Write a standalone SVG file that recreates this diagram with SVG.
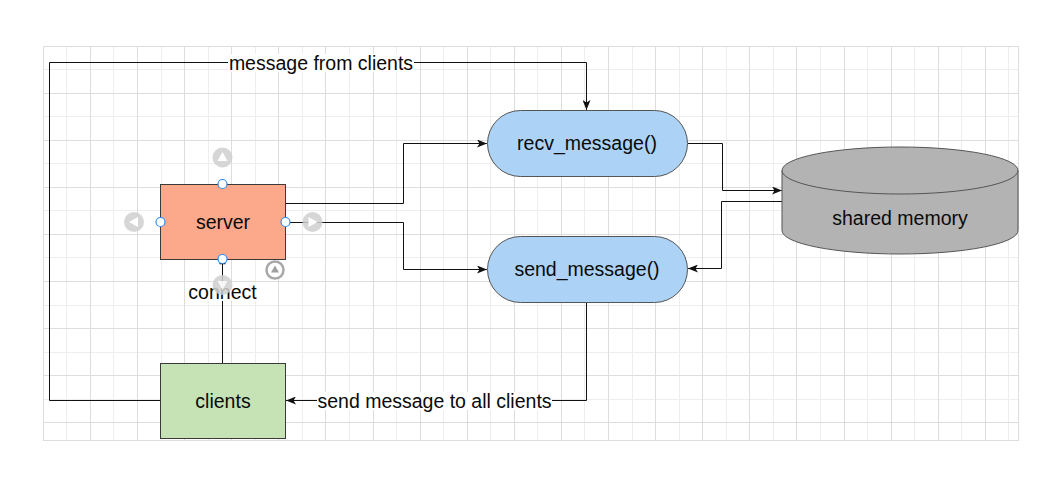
<svg xmlns="http://www.w3.org/2000/svg" width="1058" height="486" viewBox="0 0 1058 486">
<style>
.t{font-family:"Liberation Sans",Arial,sans-serif;font-size:19.5px;fill:#0a0a0a;text-anchor:middle}
.c{fill:none;stroke:#111;stroke-width:1}
.h{fill:#fff;stroke:#2f8cf0;stroke-width:1.2}
.gi{fill:#cfcfcf;opacity:0.85}
</style>
<defs>
<marker id="arr" viewBox="0 0 10 8" refX="10" refY="4" markerWidth="10" markerHeight="8" orient="auto" markerUnits="userSpaceOnUse">
<path d="M0,0 L10,4 L0,8 L2.5,4 z" fill="#111"/>
</marker>
</defs>
<rect width="1058" height="486" fill="#fff"/>
<g id="grid" fill="none">
<path stroke="#eeeeee" d="M66.5,46.5V440.5M113.5,46.5V440.5M161.5,46.5V440.5M208.5,46.5V440.5M255.5,46.5V440.5M302.5,46.5V440.5M349.5,46.5V440.5M396.5,46.5V440.5M443.5,46.5V440.5M490.5,46.5V440.5M537.5,46.5V440.5M584.5,46.5V440.5M632.5,46.5V440.5M679.5,46.5V440.5M726.5,46.5V440.5M773.5,46.5V440.5M820.5,46.5V440.5M867.5,46.5V440.5M914.5,46.5V440.5M961.5,46.5V440.5M1008.5,46.5V440.5M43.5,69.5H1018.5M43.5,116.5H1018.5M43.5,163.5H1018.5M43.5,210.5H1018.5M43.5,257.5H1018.5M43.5,305.5H1018.5M43.5,352.5H1018.5M43.5,399.5H1018.5"/>
<path stroke="#dddddd" d="M90.5,46.5V440.5M137.5,46.5V440.5M184.5,46.5V440.5M231.5,46.5V440.5M278.5,46.5V440.5M325.5,46.5V440.5M373.5,46.5V440.5M420.5,46.5V440.5M467.5,46.5V440.5M514.5,46.5V440.5M561.5,46.5V440.5M608.5,46.5V440.5M655.5,46.5V440.5M702.5,46.5V440.5M749.5,46.5V440.5M796.5,46.5V440.5M844.5,46.5V440.5M891.5,46.5V440.5M938.5,46.5V440.5M985.5,46.5V440.5M43.5,93.5H1018.5M43.5,140.5H1018.5M43.5,187.5H1018.5M43.5,234.5H1018.5M43.5,281.5H1018.5M43.5,328.5H1018.5M43.5,375.5H1018.5M43.5,422.5H1018.5"/>
<rect x="43.5" y="46.5" width="975" height="394" stroke="#dddddd"/>
</g>
<g id="connectors">
<path class="c" d="M286,203.5H403.5V143.5H487" marker-end="url(#arr)"/>
<path class="c" d="M286,222.5H403.5V269.5H487" marker-end="url(#arr)"/>
<path class="c" d="M688,143.5H722.5V190.5H782" marker-end="url(#arr)"/>
<path class="c" d="M782,201.5H721.5V268.5H688" marker-end="url(#arr)"/>
<path class="c" d="M586.5,303V400.5H286" marker-end="url(#arr)"/>
<path class="c" d="M160,400.5H49.5V62.5H586.5V110" marker-end="url(#arr)"/>
<path class="c" d="M222.5,260V363"/>
<path d="M219.5,263.5H225.5" stroke="#111" stroke-width="1.5"/>
<rect x="228" y="54" width="186" height="18" fill="#fff"/>
<text class="t" x="321" y="69.7">message from clients</text>
<rect x="317" y="392" width="235" height="18" fill="#fff"/>
<text class="t" x="434.5" y="407.5">send message to all clients</text>
<rect x="187" y="283" width="71" height="18" fill="#fff"/>
<text class="t" x="222.5" y="298.5">connect</text>
</g>
<g id="server">
<rect x="160.5" y="184.5" width="125" height="75" fill="#fca98b" stroke="#3a3a3a"/>
<text class="t" x="223" y="228.5">server</text>
</g>
<g id="recv_message">
<rect x="487.5" y="110.5" width="200" height="66" rx="33" fill="#acd3f5" stroke="#555"/>
<text class="t" x="587" y="150">recv_message()</text>
</g>
<g id="send_message">
<rect x="487.5" y="236.5" width="200" height="66" rx="33" fill="#acd3f5" stroke="#555"/>
<text class="t" x="587" y="276">send_message()</text>
</g>
<g id="shared_memory">
<path d="M782,170.5A118,23.5 0 0 1 1018,170.5V230.5A118,23.5 0 0 1 782,230.5Z" fill="#b3b3b3" stroke="#555"/>
<path d="M782,170.5A118,23.5 0 0 0 1018,170.5" fill="none" stroke="#555"/>
<text class="t" x="900" y="225">shared memory</text>
</g>
<g id="clients">
<rect x="160.5" y="363.5" width="125" height="75" fill="#c5e3b4" stroke="#3a3a3a"/>
<text class="t" x="223" y="407.5">clients</text>
</g>
<g id="hover-icons">
<circle class="gi" cx="222.5" cy="157.5" r="10"/>
<path d="M222.5,152L227.5,161H217.5Z" fill="#fff"/>
<circle class="gi" cx="134" cy="222" r="10"/>
<path d="M129,222L138,217V227Z" fill="#fff"/>
<circle class="gi" cx="312.5" cy="222" r="10"/>
<path d="M317.5,222L308.5,217V227Z" fill="#fff"/>
<circle class="gi" cx="222.5" cy="285" r="10" opacity="0.7"/>
<path d="M222.5,290L227.5,281H217.5Z" fill="#fff" opacity="0.8"/>
<circle cx="275" cy="270" r="8.5" fill="#fff" stroke="#a8a8a8" stroke-width="2.5"/>
<path d="M275,265.5L279,272.5H271Z" fill="#a0a0a0"/>
</g>
<g id="handles">
<circle class="h" cx="222.5" cy="184" r="4.5"/>
<circle class="h" cx="160.5" cy="222" r="4.5"/>
<circle class="h" cx="285.5" cy="222" r="4.5"/>
<circle class="h" cx="222.5" cy="259" r="4.5"/>
</g>
</svg>
